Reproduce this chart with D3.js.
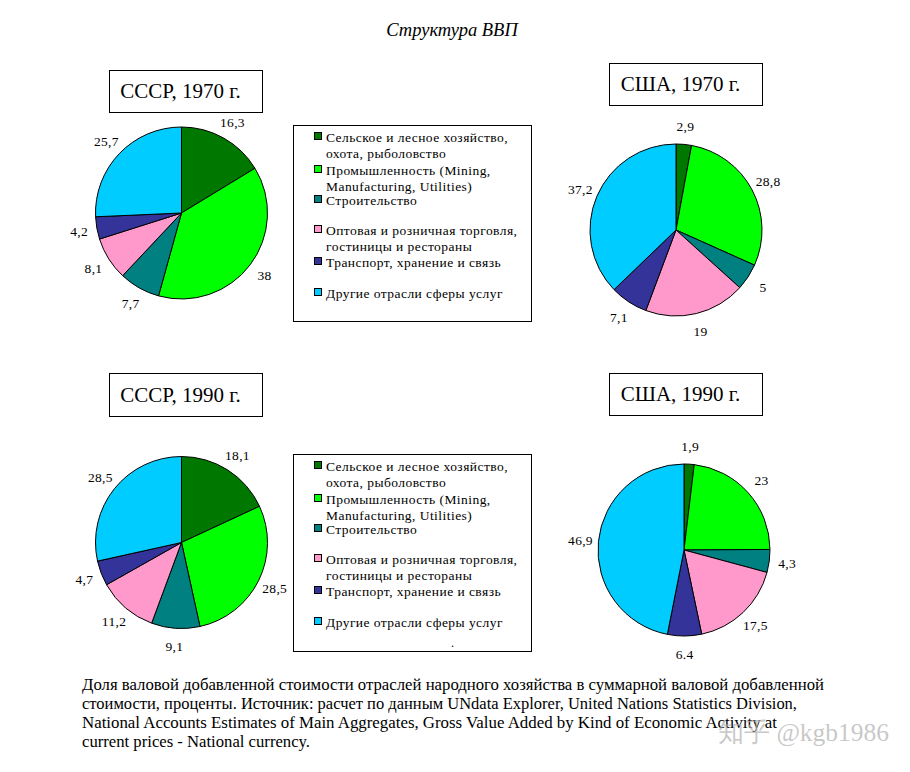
<!DOCTYPE html>
<html><head><meta charset="utf-8">
<script src="https://cdn.jsdelivr.net/npm/d3@7"></script>
<style>
html,body{margin:0;padding:0;background:#fff;}
svg{display:block;}
text{font-family:"Liberation Serif","Times New Roman",serif;}
</style></head>
<body><svg id="c" width="910" height="772"></svg>
<script>
// ---- data ----
const categories = [
  ["Сельское  и лесное хозяйство,", "охота, рыболовство"],
  ["Промышленность (Mining,", "Manufacturing, Utilities)"],
  ["Строительство"],
  ["Оптовая и розничная торговля,", "гостиницы и рестораны"],
  ["Транспорт, хранение и связь"],
  ["Другие отрасли сферы услуг"]
];
const colors = ["#007800", "#00ff00", "#008080", "#ff99cc", "#333399", "#00ccff"];
const chartTitles = ["СССР, 1970 г.", "США, 1970 г.", "СССР, 1990 г.", "США, 1990 г."];
const ussr1970 = [16.3, 38, 7.7, 8.1, 4.2, 25.7];
const usa1970  = [2.9, 28.8, 5, 19, 7.1, 37.2];
const ussr1990 = [18.1, 28.5, 9.1, 11.2, 4.7, 28.5];
const usa1990  = [1.9, 23, 4.3, 17.5, 6.4, 46.9];
const labelsUssr1970 = ["16,3", "38", "7,7", "8,1", "4,2", "25,7"];
const labelsUsa1970  = ["2,9", "28,8", "5", "19", "7,1", "37,2"];
const labelsUssr1990 = ["18,1", "28,5", "9,1", "11,2", "4,7", "28,5"];
const labelsUsa1990  = ["1,9", "23", "4,3", "17,5", "6.4", "46,9"];
const mainTitle = "Структура ВВП";
const footnote = [
  "Доля валовой добавленной стоимости отраслей народного хозяйства в суммарной валовой добавленной",
  "стоимости, проценты. Источник: расчет по данным UNdata Explorer, United Nations Statistics Division,",
  "National Accounts Estimates of Main Aggregates,  Gross Value Added by Kind of Economic Activity at",
  "current prices - National currency."
];
const watermark = "知乎 @kgb1986";

// ---- layout ----
const svg = d3.select("#c");
svg.append("rect").attr("width", 910).attr("height", 772).attr("fill", "#fff");

svg.append("text").attr("x", 452).attr("y", 36).attr("text-anchor", "middle")
  .attr("font-size", 18.5).attr("font-style", "italic").text(mainTitle);

const panels = [
  {values: ussr1970, labels: labelsUssr1970, cx: 181.5, cy: 213, r: 86, box: [109, 70, 153, 42]},
  {values: usa1970,  labels: labelsUsa1970,  cx: 676,   cy: 230, r: 86, box: [609, 63, 153, 42]},
  {values: ussr1990, labels: labelsUssr1990, cx: 181.5, cy: 542.5, r: 86, box: [109, 373, 153, 43]},
  {values: usa1990,  labels: labelsUsa1990,  cx: 684,   cy: 550, r: 86, box: [609, 373, 153, 42]}
];

const pie = d3.pie().sort(null).value(d => d);
const color = d3.scaleOrdinal().domain(d3.range(categories.length)).range(colors);

panels.forEach((p, pi) => {
  const [bx, by, bw, bh] = p.box;
  svg.append("rect").attr("x", bx + 0.5).attr("y", by + 0.5).attr("width", bw).attr("height", bh)
    .attr("fill", "#fff").attr("stroke", "#000").attr("stroke-width", 1);
  svg.append("text").attr("x", bx + bw / 2 - 5).attr("y", by + bh / 2 + 7).attr("text-anchor", "middle")
    .attr("font-size", 21).text(chartTitles[pi]);

  const g = svg.append("g").attr("transform", `translate(${p.cx},${p.cy})`);
  const arcs = pie(p.values);
  const arc = d3.arc().innerRadius(0).outerRadius(p.r);
  g.selectAll("path").data(arcs).join("path")
    .attr("d", arc).attr("fill", (d, i) => color(i))
    .attr("stroke", "#000").attr("stroke-width", 1);
  const lr = p.r + 18;
  const labelArc = d3.arc().innerRadius(lr).outerRadius(lr);
  g.selectAll("text.lbl").data(arcs).join("text").attr("class", "lbl")
    .attr("transform", d => `translate(${labelArc.centroid(d)})`)
    .attr("text-anchor", "middle").attr("dy", "0.35em")
    .attr("font-size", 13.5).attr("letter-spacing", 0.3).text((d, i) => p.labels[i]);
});

// legends
const itemOffsets = [12, 45, 75, 105, 137, 168];
[[293, 125], [293, 454]].forEach(([lx, ly], li) => {
  const lg = svg.append("g");
  lg.append("rect").attr("x", lx + 0.5).attr("y", ly + 0.5).attr("width", 238).attr("height", li === 0 ? 196 : 197)
    .attr("fill", "#fff").attr("stroke", "#000").attr("stroke-width", 1);
  categories.forEach((lines, i) => {
    const yy = ly + itemOffsets[i];
    lg.append("rect").attr("x", lx + 21.5).attr("y", yy - 4.5).attr("width", 7).attr("height", 7)
      .attr("fill", color(i)).attr("stroke", "#000").attr("stroke-width", 1);
    lines.forEach((t, k) => {
      lg.append("text").attr("x", lx + 33).attr("y", yy + k * 16.5 + 4.5)
        .attr("font-size", 13.5).attr("letter-spacing", 0.45).text(t);
    });
  });
  if (li === 1) {
    lg.append("text").attr("x", lx + 158).attr("y", ly + 193).attr("font-size", 12).text(".");
  }
});

// footnote
const fnY = [690, 709, 728, 747];
const fnW = [742, 715, 695, 228];
footnote.forEach((t, i) => {
  svg.append("text").attr("x", 82).attr("y", fnY[i]).attr("font-size", 16)
    .attr("textLength", fnW[i]).attr("lengthAdjust", "spacingAndGlyphs").text(t);
});

svg.append("text").attr("x", 718).attr("y", 741).attr("font-size", 25.5)
  .attr("font-family", "'Noto Sans CJK SC', 'Noto Sans', sans-serif")
  .attr("fill", "#b0b0b0").attr("fill-opacity", 0.7).text(watermark);
</script>
</body></html>
